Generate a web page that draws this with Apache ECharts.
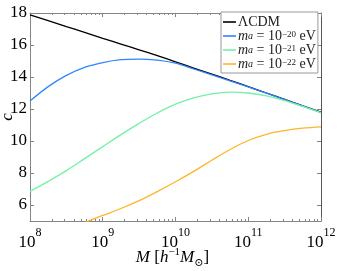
<!DOCTYPE html>
<html><head><meta charset="utf-8">
<script src="https://cdn.jsdelivr.net/npm/echarts@6/dist/echarts.min.js"></script>
<style>html,body{margin:0;padding:0;background:#fff}#c{width:337px;height:271px}</style>
</head><body><div id="c"></div>
<script>
// log10(M) grid points
const logM = [8, 8.25, 8.5, 8.75, 9, 9.25, 9.5, 9.75, 10, 10.25, 10.5, 10.75, 11, 11.25, 11.5, 11.75, 12];
const cLCDM = [17.88, 17.52, 17.15, 16.79, 16.42, 16.06, 15.7, 15.33, 14.95, 14.56, 14.18, 13.79, 13.4, 13.0, 12.6, 12.2, 11.8];
const cM20  = [12.5, 13.4, 14.1, 14.6, 14.9, 15.08, 15.12, 15.05, 14.86, 14.5, 14.14, 13.76, 13.38, 12.99, 12.59, 12.19, 11.78];
const cM21  = [6.85, 7.48, 8.15, 8.9, 9.65, 10.4, 11.1, 11.75, 12.3, 12.7, 12.95, 13.05, 13.0, 12.82, 12.52, 12.16, 11.78];
const cM22  = [null, null, null, 4.9, 5.35, 5.78, 6.27, 6.84, 7.45, 8.1, 8.8, 9.47, 10.03, 10.42, 10.65, 10.8, 10.88];
const seriesNames = ['ΛCDM', 'm20', 'm21', 'm22'];
const seriesColors = ['#000000', '#2f86ff', '#72f2a6', '#ffb52a'];
const yTicks = [6, 8, 10, 12, 14, 16, 18];
const xMinorMult = [2, 3, 4, 5, 6, 7, 8, 9];

const xMinor = [];
for (let e = 8; e < 12; e++) for (const m of xMinorMult) xMinor.push(m * Math.pow(10, e));
const toPairs = arr => logM.map((l, i) => arr[i] == null ? null : [Math.pow(10, l), arr[i]]).filter(p => p);

const axisColor = '#858585';
const serif = '"Liberation Serif", "DejaVu Serif", serif';
const legendLabels = {
  'ΛCDM': 'ΛCDM',
  'm20': '{i|m}{sub|a} = 10{sup|−20} eV',
  'm21': '{i|m}{sub|a} = 10{sup|−21} eV',
  'm22': '{i|m}{sub|a} = 10{sup|−22} eV'
};

const baseX = {type: 'log', logBase: 10, min: 1e8, max: 1e12, splitLine: {show: false}};
const chart = echarts.init(document.getElementById('c'), null, {renderer: 'canvas'});
chart.setOption({
  animation: false,
  backgroundColor: '#fff',
  grid: {left: 30, right: 16, top: 13, bottom: 50, containLabel: false, outerBoundsMode: 'none'},
  legend: {
    orient: 'vertical', left: 221, top: 12,
    data: seriesNames,
    icon: 'rect',
    backgroundColor: '#fff', borderColor: '#999', borderWidth: 1, borderRadius: 0,
    padding: [3, 2, 2, 2], itemGap: 0, itemWidth: 13, itemHeight: 1.6,
    formatter: n => legendLabels[n],
    textStyle: {
      fontFamily: serif, fontSize: 14, lineHeight: 11, color: '#222', padding: [0, 0, 0, -3],
      rich: {
        i: {fontFamily: serif, fontStyle: 'italic', fontSize: 14, lineHeight: 11, color: '#222'},
        sub: {fontFamily: serif, fontStyle: 'italic', fontSize: 10, lineHeight: 6, verticalAlign: 'bottom', color: '#222'},
        sup: {fontFamily: serif, fontSize: 9, lineHeight: 7, verticalAlign: 'top', color: '#222'}
      }
    }
  },
  xAxis: [
    Object.assign({}, baseX, {
      position: 'bottom',
      axisLine: {show: true, lineStyle: {color: axisColor, width: 1}},
      axisTick: {show: true, inside: true, length: 4, lineStyle: {color: axisColor}},
      axisLabel: {
        margin: 6, color: '#000',
        formatter: v => '{b|10}{s|' + Math.round(Math.log10(v)) + '}',
        rich: {
          b: {fontFamily: serif, fontSize: 17, lineHeight: 24, verticalAlign: 'bottom', color: '#000'},
          s: {fontFamily: serif, fontSize: 12, lineHeight: 12, verticalAlign: 'top', color: '#000'}
        }
      },
      name: '{i|M} [{i|h}{sup|−1}{i|M}{sub|⊙}]',
      nameLocation: 'middle', nameGap: 26, nameMoveOverlap: false,
      nameTextStyle: {
        color: '#000', padding: [0, 6, 0, 0],
        rich: {
          i: {fontFamily: serif, fontStyle: 'italic', fontSize: 17, lineHeight: 22, verticalAlign: 'middle'},
          sup: {fontFamily: serif, fontSize: 11, verticalAlign: 'top', lineHeight: 11},
          sub: {fontFamily: serif, fontSize: 11, verticalAlign: 'bottom', lineHeight: 11}
        },
        fontFamily: serif, fontSize: 17
      }
    }),
    Object.assign({}, baseX, {
      position: 'bottom',
      axisLine: {show: false},
      axisTick: {show: true, inside: true, length: 2, customValues: xMinor, lineStyle: {color: axisColor}},
      axisLabel: {show: false}
    }),
    Object.assign({}, baseX, {
      position: 'top',
      axisLine: {show: true, lineStyle: {color: axisColor, width: 1}},
      axisTick: {show: true, inside: true, length: 4, lineStyle: {color: axisColor}},
      axisLabel: {show: false}
    }),
    Object.assign({}, baseX, {
      position: 'top',
      axisLine: {show: false},
      axisTick: {show: true, inside: true, length: 2, customValues: xMinor, lineStyle: {color: axisColor}},
      axisLabel: {show: false}
    })
  ],
  yAxis: [
    {
      type: 'value', min: 5, max: 18, position: 'left', splitLine: {show: false},
      axisLine: {show: true, lineStyle: {color: axisColor, width: 1}},
      axisTick: {show: true, inside: true, length: 4, customValues: yTicks, lineStyle: {color: axisColor}},
      axisLabel: {customValues: yTicks, margin: 3, fontFamily: serif, fontSize: 17, color: '#000'},
      name: 'c', nameLocation: 'middle', nameGap: 14, nameMoveOverlap: false,
      nameTextStyle: {fontFamily: serif, fontStyle: 'italic', fontSize: 17, color: '#000'}
    },
    {
      type: 'value', min: 5, max: 18, position: 'right', splitLine: {show: false},
      axisLine: {show: true, lineStyle: {color: '#555', width: 1}},
      axisTick: {show: true, inside: true, length: 4, customValues: yTicks, lineStyle: {color: axisColor}},
      axisLabel: {show: false}
    }
  ],
  series: [cLCDM, cM20, cM21, cM22].map((arr, i) => ({
    name: seriesNames[i], type: 'line', xAxisIndex: 0, yAxisIndex: 0,
    data: toPairs(arr), smooth: 0.35, symbol: 'none', clip: true,
    lineStyle: {color: seriesColors[i], width: 1.3},
    itemStyle: {color: seriesColors[i]}
  }))
});
</script></body></html>
